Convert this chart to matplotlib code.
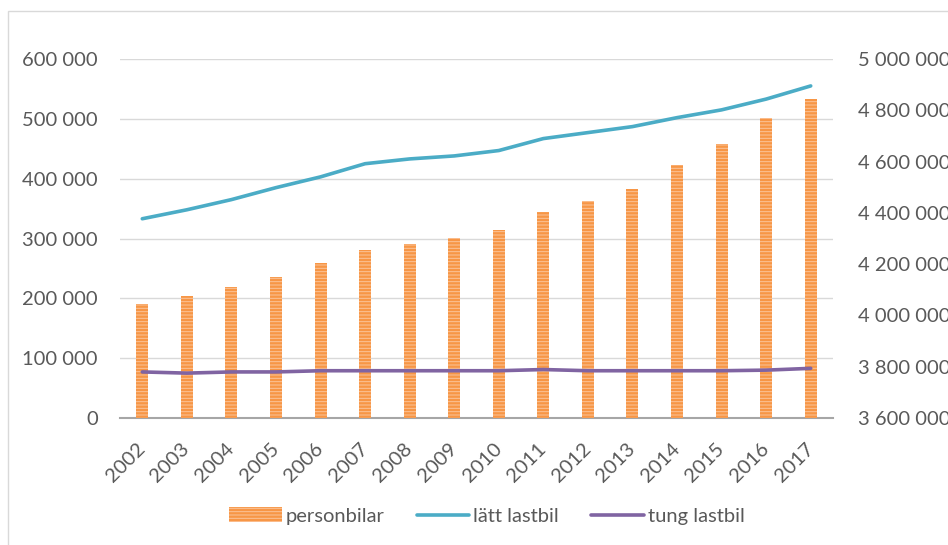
import matplotlib
matplotlib.use("Agg")
import matplotlib.pyplot as plt
from matplotlib.ticker import FuncFormatter, MultipleLocator
from matplotlib.patches import Rectangle
import numpy as np

years = ["2002", "2003", "2004", "2005", "2006", "2007", "2008", "2009",
         "2010", "2011", "2012", "2013", "2014", "2015", "2016", "2017"]
personbilar = [4043000, 4076000, 4111000, 4151000, 4204000, 4256000, 4279000, 4302000,
               4333000, 4403000, 4447000, 4494000, 4587000, 4669000, 4769000, 4844000]
latt_lastbil = [333000, 348000, 365000, 385000, 403000, 425000, 433000, 438000,
                447000, 467000, 477000, 487000, 502000, 515000, 533000, 555000]
tung_lastbil = [77000, 75000, 77000, 77000, 79000, 79000, 79000, 79000,
                79000, 81000, 79000, 79000, 79000, 79000, 80000, 83000]

plt.rcParams['font.family'] = ['Lato', 'DejaVu Sans']
plt.rcParams['hatch.linewidth'] = 0.7

W, H = 948, 545
fig = plt.figure(figsize=(W / 100, H / 100), dpi=100)
fig.patches.append(Rectangle((8 / W, -0.1), 1.2, 1 - 11 / H + 0.1, transform=fig.transFigure,
                             fill=False, edgecolor='#D9D9D9', linewidth=1.0))

pos = [120 / W, 1 - 418 / H, 713 / W, 359 / H]
ax = fig.add_axes(pos)
ax2 = ax.twinx()
ax3 = ax.twinx()
ax.set_zorder(0)
ax2.set_zorder(1)
ax3.set_zorder(2)
for a in (ax2, ax3):
    a.patch.set_visible(False)

x = np.arange(len(years))
txt = '#595959'
fs = 14.5

def fmt(v, p):
    return f"{int(round(v)):,}".replace(",", " ")

# left axis: grid + labels
ax.set_xlim(-0.5, len(years) - 0.5)
ax.set_ylim(0, 600000)
ax.yaxis.set_major_locator(MultipleLocator(100000))
ax.yaxis.set_major_formatter(FuncFormatter(fmt))
ax.grid(axis='y', color='#D9D9D9', linewidth=1.0)
ax.set_axisbelow(True)
ax.tick_params(axis='y', length=0, pad=16, labelsize=fs, labelcolor=txt)
ax.set_xticks(x)
ax.set_xticklabels(years, rotation=45, ha='right', va='center', rotation_mode='anchor')
ax.tick_params(axis='x', length=0, pad=20, labelsize=fs, labelcolor=txt)
for s in ('top', 'right', 'left'):
    ax.spines[s].set_visible(False)
ax.spines['bottom'].set_color('#A6A6A6')
ax.spines['bottom'].set_linewidth(1.5)

# right axis: bars
ax2.bar(x, personbilar, width=0.27, color='#F79646', edgecolor='#FBC49A',
        hatch='-----', linewidth=0, label='personbilar')
ax2.set_ylim(3600000, 5000000)
ax2.yaxis.set_major_locator(MultipleLocator(200000))
ax2.yaxis.set_major_formatter(FuncFormatter(fmt))
ax2.tick_params(axis='y', length=0, pad=18, labelsize=fs, labelcolor=txt)
for s in ax2.spines.values():
    s.set_visible(False)

# lines on left scale, drawn above bars
ax3.plot(x, latt_lastbil, color='#4BACC6', linewidth=2.6, label='lätt lastbil',
         solid_capstyle='round')
ax3.plot(x, tung_lastbil, color='#8064A2', linewidth=2.6, label='tung lastbil',
         solid_capstyle='round')
ax3.set_ylim(ax.get_ylim())
ax3.set_yticks([])
for s in ax3.spines.values():
    s.set_visible(False)

h2, l2 = ax2.get_legend_handles_labels()
h3, l3 = ax3.get_legend_handles_labels()
fig.legend(h2 + h3, l2 + l3, loc='center', bbox_to_anchor=(487 / W, 1 - 516 / H),
           ncol=3, frameon=False, fontsize=fs, labelcolor=txt,
           handlelength=2.6, handleheight=0.7, handletextpad=0.2, columnspacing=1.6)

fig.savefig('out.png', dpi=100)
